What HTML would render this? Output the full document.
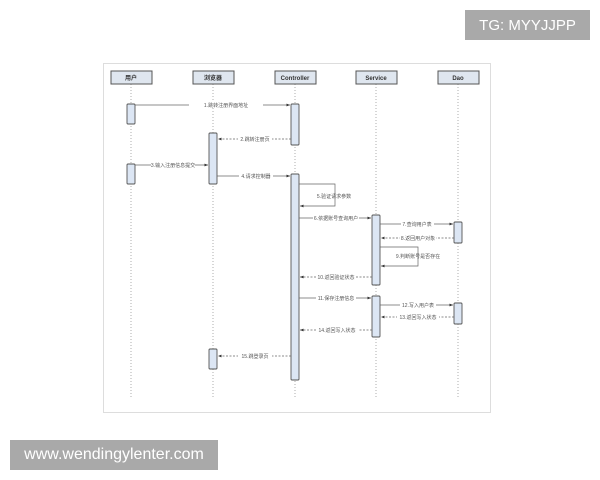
<!DOCTYPE html>
<html><head><meta charset="utf-8"><style>
body{margin:0;width:600px;height:480px;background:#fff;position:relative;overflow:hidden;font-family:"Liberation Sans","Noto Sans CJK SC",sans-serif}
.tag{position:absolute;background:#a9a9a9;color:#fff;font-size:14px;display:flex;align-items:center;justify-content:center}
</style></head><body>
<div class="tag" style="left:465px;top:10px;width:125px;height:30px;font-size:15px">TG: MYYJJPP</div>
<div class="tag" style="left:10px;top:440px;width:208px;height:30px;font-size:16px">www.wendingylenter.com</div>
<svg width="600" height="480" style="position:absolute;left:0;top:0" font-family="Liberation Sans, Noto Sans CJK SC, sans-serif">
<defs><marker id="a" markerWidth="6" markerHeight="6" refX="5" refY="3" orient="auto"><path d="M0,1 L5,3 L0,5z" fill="#333"/></marker></defs>
<rect x="103.5" y="63.5" width="387" height="349" fill="none" stroke="#ddd"/>
<g stroke="#999" stroke-dasharray="1,2" stroke-width="0.8">
<line x1="131" y1="84" x2="131" y2="398"/><line x1="213" y1="84" x2="213" y2="398"/><line x1="295" y1="84" x2="295" y2="398"/><line x1="376" y1="84" x2="376" y2="398"/><line x1="458" y1="84" x2="458" y2="398"/>
</g>
<g fill="#dfe6ef" stroke="#555" stroke-width="1">
<rect x="111" y="71" width="41" height="13"/><rect x="193" y="71" width="41" height="13"/><rect x="275" y="71" width="41" height="13"/><rect x="356" y="71" width="41" height="13"/><rect x="438" y="71" width="41" height="13"/>
</g>
<g font-size="6" font-weight="bold" fill="#333" text-anchor="middle">
<text x="131" y="80">用户</text><text x="213" y="80">浏览器</text><text x="295" y="80">Controller</text><text x="376" y="80">Service</text><text x="458" y="80">Dao</text>
</g>
<g fill="#dce6f4" stroke="#555" stroke-width="0.9">
<rect x="127" y="104" width="8" height="20" rx="1"/><rect x="127" y="164" width="8" height="20" rx="1"/>
<rect x="209" y="133" width="8" height="51" rx="1"/><rect x="209" y="349" width="8" height="20" rx="1"/>
<rect x="291" y="104" width="8" height="41" rx="1"/><rect x="291" y="174" width="8" height="206" rx="1"/>
<rect x="372" y="215" width="8" height="70" rx="1"/><rect x="372" y="296" width="8" height="41" rx="1"/>
<rect x="454" y="222" width="8" height="21" rx="1"/><rect x="454" y="303" width="8" height="21" rx="1"/>
</g>
<g stroke="#666" stroke-width="0.7" fill="none" marker-end="url(#a)">
<line x1="135" y1="105" x2="290" y2="105"/>
<line x1="291" y1="139" x2="218" y2="139" stroke-dasharray="2,1.5"/>
<line x1="135" y1="165" x2="208" y2="165"/>
<line x1="217" y1="176" x2="290" y2="176"/>
<polyline points="299,184 335,184 335,206 300,206"/>
<line x1="299" y1="218" x2="371" y2="218"/>
<line x1="380" y1="224" x2="453" y2="224"/>
<line x1="454" y1="238" x2="381" y2="238" stroke-dasharray="2,1.5"/>
<polyline points="380,247 418,247 418,266 381,266"/>
<line x1="372" y1="277" x2="300" y2="277" stroke-dasharray="2,1.5"/>
<line x1="299" y1="298" x2="371" y2="298"/>
<line x1="380" y1="305" x2="453" y2="305"/>
<line x1="454" y1="317" x2="381" y2="317" stroke-dasharray="2,1.5"/>
<line x1="372" y1="330" x2="300" y2="330" stroke-dasharray="2,1.5"/>
<line x1="291" y1="356" x2="218" y2="356" stroke-dasharray="2,1.5"/>
</g>
<g font-size="5" fill="#555" text-anchor="middle">
<rect x="189" y="101" width="74" height="7" fill="#fff"/><text x="226" y="107">1.跳转注册界面地址</text>
<rect x="238" y="136" width="34" height="7" fill="#fff"/><text x="255" y="141">2.跳转注册页</text>
<rect x="151" y="161" width="44" height="7" fill="#fff"/><text x="173" y="167">3.输入注册信息提交</text>
<rect x="239" y="173" width="34" height="7" fill="#fff"/><text x="256" y="178">4.请求控制器</text>
<text x="334" y="198">5.验证请求参数</text>
<rect x="313" y="215" width="46" height="7" fill="#fff"/><text x="336" y="220">6.依据账号查询用户</text>
<rect x="401" y="221" width="33" height="7" fill="#fff"/><text x="417" y="226">7.查询用户表</text>
<rect x="400" y="235" width="36" height="7" fill="#fff"/><text x="418" y="240">8.返回用户对象</text>
<text x="418" y="258">9.判断账号是否存在</text>
<rect x="316" y="274" width="40" height="7" fill="#fff"/><text x="336" y="279">10.返回验证状态</text>
<rect x="316" y="295" width="40" height="7" fill="#fff"/><text x="336" y="300">11.保存注册信息</text>
<rect x="400" y="302" width="36" height="7" fill="#fff"/><text x="418" y="307">12.写入用户表</text>
<rect x="397" y="314" width="42" height="7" fill="#fff"/><text x="418" y="319">13.返回写入状态</text>
<rect x="316" y="327" width="42" height="7" fill="#fff"/><text x="337" y="332">14.返回写入状态</text>
<rect x="238" y="353" width="34" height="7" fill="#fff"/><text x="255" y="358">15.跳登录页</text>
</g>
</svg>
</body></html>
